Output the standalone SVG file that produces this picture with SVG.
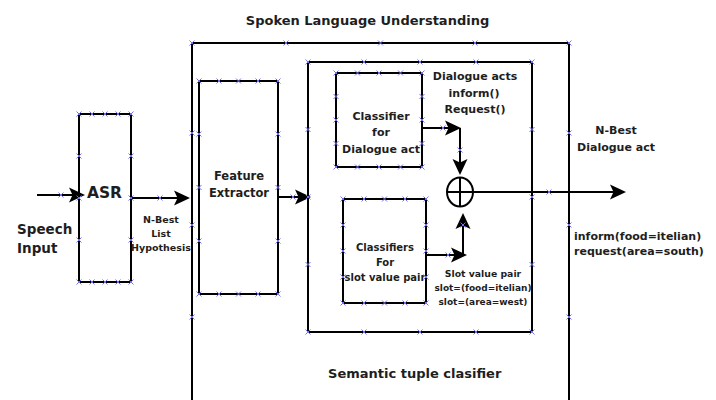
<svg xmlns="http://www.w3.org/2000/svg" xmlns:xlink="http://www.w3.org/1999/xlink" width="716" height="400" viewBox="0 0 716 400">
<style>
.box{fill:none;stroke:#000;stroke-width:2}
.ln{fill:none;stroke:#000;stroke-width:2}
.t{font-family:"DejaVu Sans","Liberation Sans",sans-serif;font-weight:bold;fill:#1e1e1e;text-anchor:middle}
.cx{stroke:#7070f0;stroke-width:1;fill:none}
</style>
<defs>
<marker id="ah" viewBox="-15 -8 17 16" refX="0" refY="0" markerWidth="17" markerHeight="16" markerUnits="userSpaceOnUse" orient="auto">
<path d="M2,0 L-14,-7.5 L-10.5,0 L-14,7.5 Z" fill="#000"/>
</marker>
<symbol id="x" overflow="visible"><path class="cx" d="M-2.5,-2.5 L2.5,2.5 M-2.5,2.5 L2.5,-2.5"/></symbol>
</defs>
<rect width="716" height="400" fill="#fff"/>

<text class="t" x="367.5" y="25" font-size="13">Spoken Language Understanding</text>

<g id="slu">
<rect class="box" x="192" y="43" width="377" height="365"/>
<text class="t" x="414.7" y="378" font-size="13">Semantic tuple clasifier</text>
</g>

<g id="asr">
<rect class="box" x="79" y="114" width="52" height="168"/>
<text class="t" x="104.5" y="198" font-size="15.5">ASR</text>
</g>

<g id="speech">
<text class="t" x="17" y="234" font-size="13.5" style="text-anchor:start">Speech</text>
<text class="t" x="17" y="253" font-size="13.5" style="text-anchor:start">Input</text>
</g>

<g id="nbest">
<text class="t" x="161" y="223" font-size="9.5">N-Best</text>
<text class="t" x="161" y="237" font-size="9.5">List</text>
<text class="t" x="161" y="251" font-size="9.5">Hypothesis</text>
</g>

<g id="feature">
<rect class="box" x="199" y="81" width="79" height="213"/>
<text class="t" x="239" y="180" font-size="11.5">Feature</text>
<text class="t" x="239" y="197" font-size="11.5">Extractor</text>
</g>

<g id="tuple">
<rect class="box" x="308" y="62" width="224" height="270"/>
</g>

<g id="cls-da">
<rect class="box" x="336" y="73" width="86" height="94"/>
<text class="t" x="381" y="120" font-size="11">Classifier</text>
<text class="t" x="381" y="136" font-size="11">for</text>
<text class="t" x="381" y="152.5" font-size="11">Dialogue act</text>
</g>

<g id="da-label">
<text class="t" x="475" y="80" font-size="11">Dialogue acts</text>
<text class="t" x="474" y="96.5" font-size="11">inform()</text>
<text class="t" x="475" y="113" font-size="11">Request()</text>
</g>

<g id="cls-slot">
<rect class="box" x="343" y="199" width="83" height="104"/>
<text class="t" x="385" y="251" font-size="10">Classifiers</text>
<text class="t" x="385" y="266" font-size="10">For</text>
<text class="t" x="385" y="281" font-size="10">slot value pair</text>
</g>

<g id="slot-label">
<text class="t" x="483" y="277" font-size="9.3">Slot value pair</text>
<text class="t" x="483" y="291" font-size="9">slot=(food=itelian)</text>
<text class="t" x="483" y="304.5" font-size="9">slot=(area=west)</text>
</g>

<g id="sum">
<ellipse class="box" cx="460" cy="192" rx="13" ry="14.5"/>
<path class="ln" d="M460,177.5 V206.5 M447,192 H473"/>
</g>

<g id="out-label">
<text class="t" x="616" y="134" font-size="11">N-Best</text>
<text class="t" x="616" y="151" font-size="11">Dialogue act</text>
<text class="t" x="574" y="239.5" font-size="11" style="text-anchor:start">inform(food=itelian)</text>
<text class="t" x="574" y="255" font-size="11" style="text-anchor:start">request(area=south)</text>
</g>

<g id="connectors">
<path class="ln" d="M37,195 H83" marker-end="url(#ah)"/>
<path class="ln" d="M131,198 H188" marker-end="url(#ah)"/>
<path class="ln" d="M278,197 H309" marker-end="url(#ah)"/>
<path class="ln" d="M422,128 H459" marker-end="url(#ah)"/>
<path class="ln" d="M460,128 V173" marker-end="url(#ah)"/>
<path class="ln" d="M426,255 H465" marker-end="url(#ah)"/>
<path class="ln" d="M463,255 V215" marker-end="url(#ah)"/>
<path class="ln" d="M473,192 H624" marker-end="url(#ah)"/>
</g>

<g id="points">
<use href="#x" x="192" y="43"/><use href="#x" x="286" y="43"/><use href="#x" x="380.5" y="43"/><use href="#x" x="475" y="43"/><use href="#x" x="569" y="43"/>
<use href="#x" x="192" y="133"/><use href="#x" x="192" y="225"/><use href="#x" x="192" y="317"/>
<use href="#x" x="569" y="133"/><use href="#x" x="569" y="225"/><use href="#x" x="569" y="317"/>

<use href="#x" x="79" y="114"/><use href="#x" x="92" y="114"/><use href="#x" x="105" y="114"/><use href="#x" x="118" y="114"/><use href="#x" x="131" y="114"/>
<use href="#x" x="79" y="282"/><use href="#x" x="92" y="282"/><use href="#x" x="105" y="282"/><use href="#x" x="118" y="282"/><use href="#x" x="131" y="282"/>
<use href="#x" x="79" y="156"/><use href="#x" x="79" y="198"/><use href="#x" x="79" y="240"/>
<use href="#x" x="131" y="156"/><use href="#x" x="131" y="198"/><use href="#x" x="131" y="240"/>

<use href="#x" x="199" y="81"/><use href="#x" x="219" y="81"/><use href="#x" x="238.5" y="81"/><use href="#x" x="258" y="81"/><use href="#x" x="278" y="81"/>
<use href="#x" x="199" y="294"/><use href="#x" x="219" y="294"/><use href="#x" x="238.5" y="294"/><use href="#x" x="258" y="294"/><use href="#x" x="278" y="294"/>
<use href="#x" x="199" y="134"/><use href="#x" x="199" y="187.5"/><use href="#x" x="199" y="241"/>
<use href="#x" x="278" y="134"/><use href="#x" x="278" y="187.5"/><use href="#x" x="278" y="241"/>

<use href="#x" x="308" y="62"/><use href="#x" x="364" y="62"/><use href="#x" x="420" y="62"/><use href="#x" x="476" y="62"/><use href="#x" x="532" y="62"/>
<use href="#x" x="308" y="332"/><use href="#x" x="364" y="332"/><use href="#x" x="420" y="332"/><use href="#x" x="476" y="332"/><use href="#x" x="532" y="332"/>
<use href="#x" x="308" y="129.5"/><use href="#x" x="308" y="197"/><use href="#x" x="308" y="264.5"/>
<use href="#x" x="532" y="129.5"/><use href="#x" x="532" y="197"/><use href="#x" x="532" y="264.5"/>

<use href="#x" x="336" y="73"/><use href="#x" x="357.5" y="73"/><use href="#x" x="379" y="73"/><use href="#x" x="400.5" y="73"/><use href="#x" x="422" y="73"/>
<use href="#x" x="336" y="167"/><use href="#x" x="357.5" y="167"/><use href="#x" x="379" y="167"/><use href="#x" x="400.5" y="167"/><use href="#x" x="422" y="167"/>
<use href="#x" x="336" y="96.5"/><use href="#x" x="336" y="120"/><use href="#x" x="336" y="143.5"/>
<use href="#x" x="422" y="96.5"/><use href="#x" x="422" y="120"/><use href="#x" x="422" y="143.5"/>

<use href="#x" x="343" y="199"/><use href="#x" x="364" y="199"/><use href="#x" x="384.5" y="199"/><use href="#x" x="405" y="199"/><use href="#x" x="426" y="199"/>
<use href="#x" x="343" y="303"/><use href="#x" x="364" y="303"/><use href="#x" x="384.5" y="303"/><use href="#x" x="405" y="303"/><use href="#x" x="426" y="303"/>
<use href="#x" x="343" y="225"/><use href="#x" x="343" y="251"/><use href="#x" x="343" y="277"/>
<use href="#x" x="426" y="225"/><use href="#x" x="426" y="251"/><use href="#x" x="426" y="277"/>

<use href="#x" x="61" y="195"/><use href="#x" x="160" y="198"/><use href="#x" x="293" y="197"/>
<use href="#x" x="443" y="128"/><use href="#x" x="460" y="150"/>
<use href="#x" x="448" y="255"/><use href="#x" x="463" y="225"/>
<use href="#x" x="549" y="192"/>
</g>
</svg>
